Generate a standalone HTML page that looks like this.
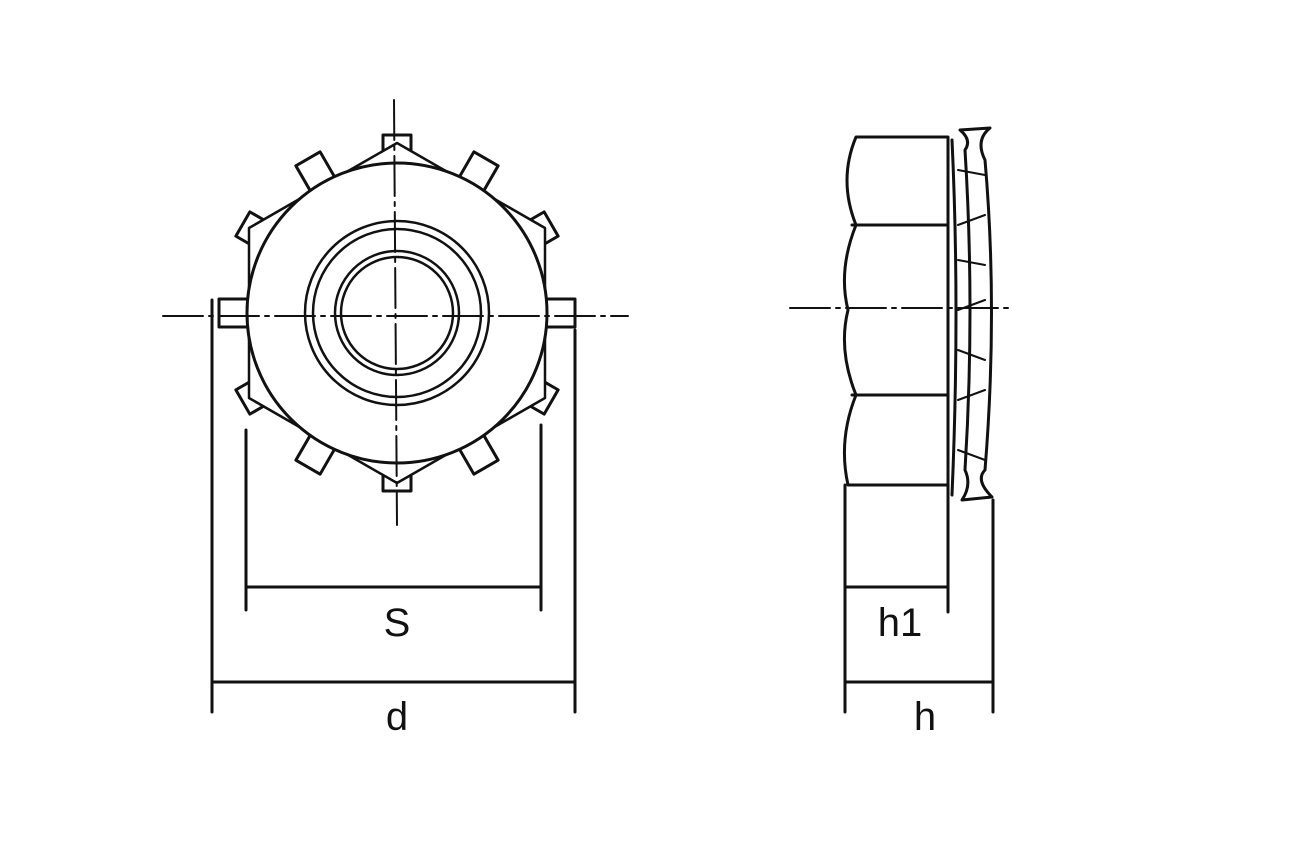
<!DOCTYPE html>
<html><head><meta charset="utf-8"><style>html,body{margin:0;padding:0;background:#fff}svg{display:block}</style></head>
<body>
<svg width="1316" height="847" viewBox="0 0 1316 847" xmlns="http://www.w3.org/2000/svg">
<g fill="none" stroke="#111" stroke-width="3" stroke-linejoin="round" stroke-linecap="round">
<g transform="translate(397,313)" fill="#fff">
  <g id="t"><path d="M-14,-148 L-14,-178 L14,-178 L14,-148 Z"/></g>
  <use href="#t" transform="rotate(30)"/>
  <use href="#t" transform="rotate(60)"/>
  <use href="#t" transform="rotate(90)"/>
  <use href="#t" transform="rotate(120)"/>
  <use href="#t" transform="rotate(150)"/>
  <use href="#t" transform="rotate(180)"/>
  <use href="#t" transform="rotate(210)"/>
  <use href="#t" transform="rotate(240)"/>
  <use href="#t" transform="rotate(270)"/>
  <use href="#t" transform="rotate(300)"/>
  <use href="#t" transform="rotate(330)"/>
  <polygon points="0,-170 148,-85 148,85 0,170 -148,85 -148,-85" stroke-width="2.5"/>
  <circle r="150"/>
  <circle r="92" stroke-width="2.5"/>
  <circle r="84" stroke-width="2.5"/>
  <circle r="62" stroke-width="2.5"/>
  <circle r="56" stroke-width="2.5"/>
</g>
<line x1="163" y1="316" x2="628" y2="316" stroke-width="2" stroke-dasharray="40,6,4,6"/>
<line x1="394" y1="100" x2="397" y2="525" stroke-width="2" stroke-dasharray="40,6,4,6"/>
<line x1="246" y1="430" x2="246" y2="610"/>
<line x1="541" y1="425" x2="541" y2="610"/>
<line x1="246" y1="587" x2="541" y2="587"/>
<line x1="212" y1="300" x2="212" y2="712"/>
<line x1="575" y1="330" x2="575" y2="712"/>
<line x1="212" y1="682" x2="575" y2="682"/>
<path d="M856,137 L948,137 L948,485 L848,485 Q838,440 856,395 Q838,350 848,310 Q838,270 856,225 Q838,180 856,137 Z"/>
<line x1="852" y1="225" x2="948" y2="225"/>
<line x1="852" y1="395" x2="948" y2="395"/>
<path d="M952,140 Q960,310 952,495" />
<path d="M960,130 L990,128 Q975,140 985,160 Q998,310 985,470 Q975,480 992,497 L962,500 Q972,485 965,470 Q975,310 965,150 Q972,140 960,130 Z" fill="#fff"/>
<path d="M958,170 L985,175 M958,225 L985,215 M958,260 L985,265 M958,310 L985,300 M958,350 L985,360 M958,400 L985,390 M958,450 L985,460" stroke-width="2"/>
<line x1="790" y1="308" x2="1012" y2="308" stroke-width="2" stroke-dasharray="40,6,4,6"/>
<line x1="845" y1="485" x2="845" y2="712"/>
<line x1="948" y1="485" x2="948" y2="612"/>
<line x1="845" y1="587" x2="948" y2="587"/>
<line x1="993" y1="500" x2="993" y2="712"/>
<line x1="845" y1="682" x2="993" y2="682"/>
</g>
<g font-family="Liberation Sans, sans-serif" font-size="40" fill="#111" text-anchor="middle">
<text x="397" y="636">S</text>
<text x="397" y="730">d</text>
<text x="900" y="636">h1</text>
<text x="925" y="730">h</text>
</g>
</svg>
</body></html>
